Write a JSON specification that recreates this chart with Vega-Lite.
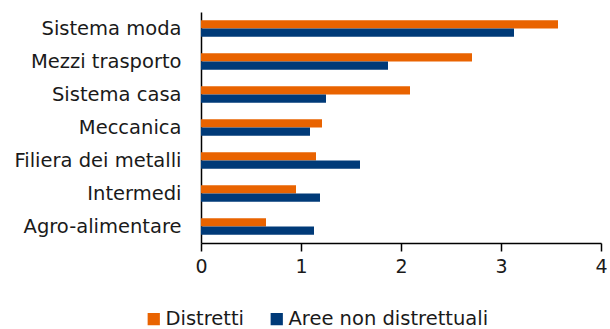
{
  "$schema": "https://vega.github.io/schema/vega-lite/v6.json",
  "width": 400,
  "height": 231,
  "autosize": {"type": "none"},
  "padding": {"left": 201, "top": 12, "right": 9, "bottom": 86},
  "background": "white",
  "data": {
    "values": [
      {"settore": "Sistema moda", "serie": "Distretti", "valore": 3.57},
      {"settore": "Sistema moda", "serie": "Aree non distrettuali", "valore": 3.13},
      {"settore": "Mezzi trasporto", "serie": "Distretti", "valore": 2.71},
      {"settore": "Mezzi trasporto", "serie": "Aree non distrettuali", "valore": 1.87},
      {"settore": "Sistema casa", "serie": "Distretti", "valore": 2.09},
      {"settore": "Sistema casa", "serie": "Aree non distrettuali", "valore": 1.25},
      {"settore": "Meccanica", "serie": "Distretti", "valore": 1.21},
      {"settore": "Meccanica", "serie": "Aree non distrettuali", "valore": 1.09},
      {"settore": "Filiera dei metalli", "serie": "Distretti", "valore": 1.15},
      {"settore": "Filiera dei metalli", "serie": "Aree non distrettuali", "valore": 1.59},
      {"settore": "Intermedi", "serie": "Distretti", "valore": 0.95},
      {"settore": "Intermedi", "serie": "Aree non distrettuali", "valore": 1.19},
      {"settore": "Agro-alimentare", "serie": "Distretti", "valore": 0.65},
      {"settore": "Agro-alimentare", "serie": "Aree non distrettuali", "valore": 1.13}
    ]
  },
  "mark": {"type": "bar"},
  "encoding": {
    "y": {
      "field": "settore",
      "type": "nominal",
      "sort": ["Sistema moda", "Mezzi trasporto", "Sistema casa", "Meccanica", "Filiera dei metalli", "Intermedi", "Agro-alimentare"],
      "scale": {"paddingInner": 0.5, "paddingOuter": 0.25},
      "axis": {
        "title": null,
        "ticks": false,
        "domainColor": "#000000",
        "domainWidth": 1.5,
        "labelFont": "DejaVu Sans",
        "labelFontSize": 19.5,
        "labelColor": "#1a1a1a",
        "labelPadding": 20,
        "labelLimit": 250
      }
    },
    "yOffset": {
      "field": "serie",
      "type": "nominal",
      "sort": ["Distretti", "Aree non distrettuali"]
    },
    "x": {
      "field": "valore",
      "type": "quantitative",
      "scale": {"domain": [0, 4], "nice": false},
      "axis": {
        "title": null,
        "grid": false,
        "values": [0, 1, 2, 3, 4],
        "format": "d",
        "labelFlush": false,
        "domainColor": "#000000",
        "domainWidth": 1.5,
        "tickColor": "#000000",
        "tickWidth": 1.5,
        "tickSize": 8,
        "labelFont": "DejaVu Sans",
        "labelFontSize": 19,
        "labelColor": "#1a1a1a",
        "labelPadding": 6
      }
    },
    "color": {
      "field": "serie",
      "type": "nominal",
      "sort": ["Distretti", "Aree non distrettuali"],
      "scale": {"domain": ["Distretti", "Aree non distrettuali"], "range": ["#E96300", "#003A78"]},
      "legend": {
        "title": null,
        "orient": "none",
        "legendX": -57,
        "legendY": 297,
        "direction": "horizontal",
        "symbolType": "square",
        "symbolSize": 150,
        "symbolStrokeWidth": 0,
        "labelFont": "DejaVu Sans",
        "labelFontSize": 19.5,
        "labelColor": "#1a1a1a",
        "labelOffset": 2,
        "columnPadding": 22,
        "labelLimit": 300
      }
    }
  },
  "config": {"view": {"stroke": null}}
}
